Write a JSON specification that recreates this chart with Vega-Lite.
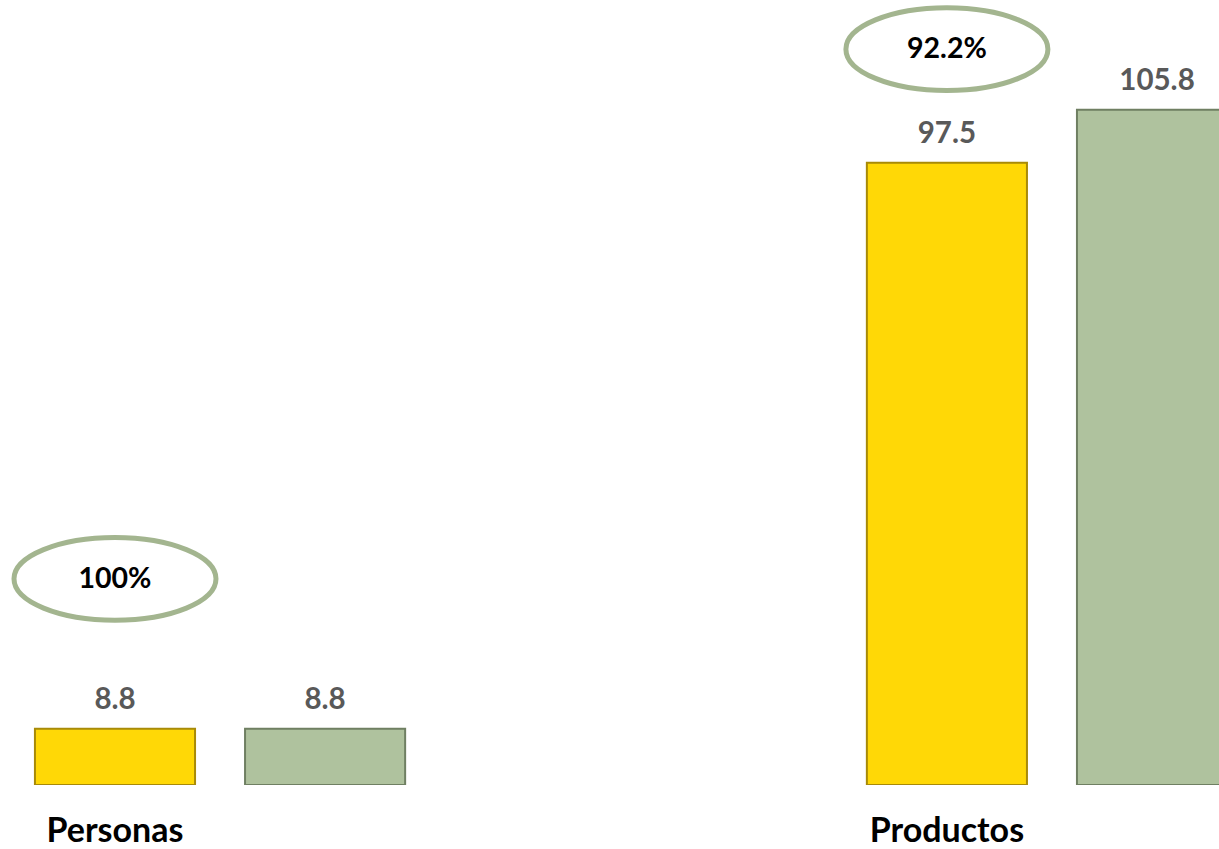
{
  "$schema": "https://vega.github.io/schema/vega-lite/v6.json",
  "autosize": {"type": "none"},
  "padding": {"left": 0, "top": 0, "right": 0, "bottom": 64},
  "width": 1219,
  "height": 785,
  "background": "white",
  "config": {"view": {"stroke": null}, "font": "Lato"},
  "datasets": {
    "barras": [
      {"categoria": "Personas", "serie": "Logrado", "valor": 8.8},
      {"categoria": "Personas", "serie": "Meta", "valor": 8.8},
      {"categoria": "Productos", "serie": "Logrado", "valor": 97.5},
      {"categoria": "Productos", "serie": "Meta", "valor": 105.8}
    ],
    "porcentajes": [
      {"categoria": "Personas", "serie": "Logrado", "pct": "100%", "pos": 32.3},
      {"categoria": "Productos", "serie": "Logrado", "pct": "92.2%", "pos": 115.3}
    ]
  },
  "encoding": {
    "x": {"field": "categoria", "type": "nominal", "axis": null,
      "scale": {"domain": ["Personas", "Productos"], "range": [0, 1272], "paddingInner": 0.555, "paddingOuter": 0.042}},
    "xOffset": {"field": "serie", "type": "nominal",
      "scale": {"domain": ["Logrado", "Meta"], "paddingInner": 0.238, "paddingOuter": 0}}
  },
  "layer": [
    {
      "data": {"name": "barras"},
      "mark": {"type": "bar", "clip": true, "strokeWidth": 2},
      "encoding": {
        "y": {"field": "valor", "type": "quantitative", "axis": null,
          "scale": {"domain": [0, 123], "nice": false, "zero": true}},
        "color": {"field": "serie", "type": "nominal", "legend": null,
          "scale": {"domain": ["Logrado", "Meta"], "range": ["#FFD806", "#AFC29E"]}},
        "stroke": {"field": "serie", "type": "nominal", "legend": null,
          "scale": {"domain": ["Logrado", "Meta"], "range": ["#A88A08", "#6F7F62"]}}
      }
    },
    {
      "data": {"name": "barras"},
      "mark": {"type": "text", "dy": -29, "baseline": "middle", "fontSize": 29.5, "fontWeight": "bold", "color": "#595959"},
      "encoding": {
        "y": {"field": "valor", "type": "quantitative"},
        "text": {"field": "valor", "type": "quantitative", "format": ".1f"}
      }
    },
    {
      "data": {"name": "barras"},
      "transform": [{"filter": "datum.serie === 'Logrado'"}],
      "mark": {"type": "text", "dy": 47, "baseline": "middle", "fontSize": 34, "fontWeight": "bold", "color": "#000000"},
      "encoding": {
        "y": {"datum": 0, "type": "quantitative"},
        "text": {"field": "categoria", "type": "nominal"}
      }
    },
    {
      "data": {"name": "porcentajes"},
      "mark": {"type": "point", "shape": "M -1 0 A 1 0.41 0 1 1 1 0 A 1 0.41 0 1 1 -1 0 Z", "size": 40804, "filled": false, "fill": "white", "fillOpacity": 1, "stroke": "#A3B58F", "strokeWidth": 5, "opacity": 1},
      "encoding": {
        "y": {"field": "pos", "type": "quantitative"}
      }
    },
    {
      "data": {"name": "porcentajes"},
      "mark": {"type": "text", "baseline": "middle", "fontSize": 28.5, "fontWeight": "bold", "color": "#000000"},
      "encoding": {
        "y": {"field": "pos", "type": "quantitative"},
        "text": {"field": "pct", "type": "nominal"}
      }
    }
  ]
}
